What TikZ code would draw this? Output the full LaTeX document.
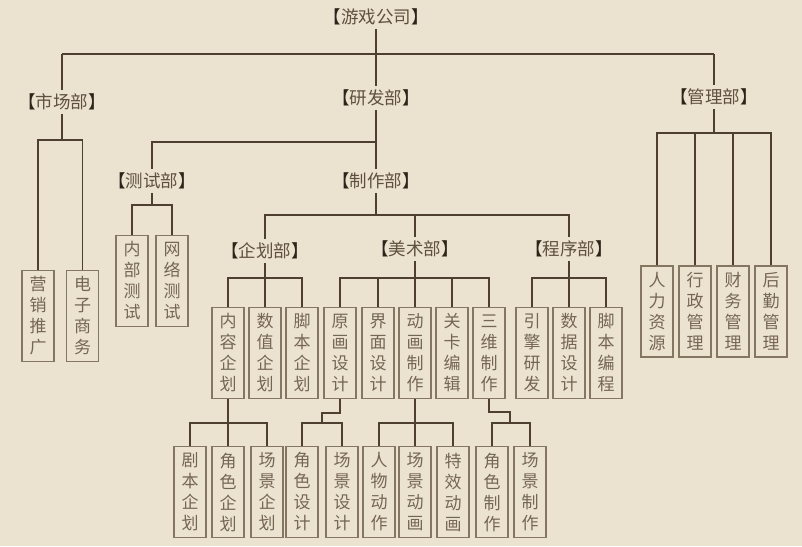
\documentclass[tikz,border=0pt]{standalone}
\usepackage{fontspec}
\newfontfamily\cjk{Noto Sans CJK SC}
\definecolor{bg}{HTML}{ECE2D0}
\definecolor{ln}{HTML}{4E3F30}
\definecolor{bx}{HTML}{857662}
\definecolor{tx}{HTML}{756654}
\definecolor{hd}{HTML}{5E4F3E}
\definecolor{brk}{HTML}{2E241A}
\newcommand{\hdr}[1]{{\color{brk}【}#1{\color{brk}】}}
\begin{document}
\begin{tikzpicture}[x=1pt,y=-1pt,
  vbox/.style={draw=bx,line width=1.1pt,minimum width=32pt,minimum height=91pt,inner sep=0pt,
    align=center,text=tx,font=\cjk\fontsize{17}{21}\selectfont},
  head/.style={inner xsep=0pt,inner ysep=4pt,text=hd,font=\cjk\fontsize{17.5}{19}\selectfont},
  conn/.style={draw=ln,line width=1.3pt}]
\useasboundingbox[fill=bg] (0,0) rectangle (802,546);
% headers
\node[head] (top) at (376,17) {\hdr{游戏公司}};
\node[head] (sc) at (62,102) {\hdr{市场部}};
\node[head] (yf) at (376,98) {\hdr{研发部}};
\node[head] (gl) at (714,97) {\hdr{管理部}};
\node[head] (cs) at (152,181) {\hdr{测试部}};
\node[head] (zz) at (376,181) {\hdr{制作部}};
\node[head] (qh) at (265,251) {\hdr{企划部}};
\node[head] (ms) at (415,249) {\hdr{美术部}};
\node[head] (cx) at (569,249) {\hdr{程序部}};
% level boxes
\node[vbox] (yx) at (38,316) {营\\销\\推\\广};
\node[vbox] (dz) at (82.5,316) {电\\子\\商\\务};
\node[vbox] (nb) at (132,281) {内\\部\\测\\试};
\node[vbox] (wl) at (172,281) {网\\络\\测\\试};
\node[vbox] (rl) at (657,311.5) {人\\力\\资\\源};
\node[vbox] (xz) at (695,311.5) {行\\政\\管\\理};
\node[vbox] (cw) at (733,311.5) {财\\务\\管\\理};
\node[vbox] (hq) at (771,311.5) {后\\勤\\管\\理};
% middle row
\node[vbox] (nr) at (228,353) {内\\容\\企\\划};
\node[vbox] (sz) at (265,353) {数\\值\\企\\划};
\node[vbox] (jb) at (302,353) {脚\\本\\企\\划};
\node[vbox] (yh) at (340,353) {原\\画\\设\\计};
\node[vbox] (jm) at (378,353) {界\\面\\设\\计};
\node[vbox] (dh) at (415,353) {动\\画\\制\\作};
\node[vbox] (gk) at (452,353) {关\\卡\\编\\辑};
\node[vbox] (sw) at (489,353) {三\\维\\制\\作};
\node[vbox] (yq) at (532,353) {引\\擎\\研\\发};
\node[vbox] (sj) at (569,353) {数\\据\\设\\计};
\node[vbox] (jbbc) at (606,353) {脚\\本\\编\\程};
% bottom row
\node[vbox] (jbqh) at (190,492) {剧\\本\\企\\划};
\node[vbox] (jsqh) at (228,492) {角\\色\\企\\划};
\node[vbox] (cjqh) at (267,492) {场\\景\\企\\划};
\node[vbox] (jssj) at (302,492) {角\\色\\设\\计};
\node[vbox] (cjsj) at (342,492) {场\\景\\设\\计};
\node[vbox] (rwdz) at (379,492) {人\\物\\动\\作};
\node[vbox] (cjdh) at (415,492) {场\\景\\动\\画};
\node[vbox] (txdh) at (453,492) {特\\效\\动\\画};
\node[vbox] (jszz) at (492,492) {角\\色\\制\\作};
\node[vbox] (cjzz) at (530,492) {场\\景\\制\\作};
% bus coordinates
\coordinate (b0) at (0,54);
\coordinate (b1) at (0,140);
\coordinate (b2) at (0,142);
\coordinate (b3) at (0,133);
\coordinate (b4) at (0,205);
\coordinate (b5) at (0,215);
\coordinate (b6) at (0,278);
\coordinate (b7) at (0,423);
\coordinate (j1) at (322,413);
\coordinate (j2) at (322,423);
\coordinate (j3) at (510,412);
\coordinate (j4) at (510,423);
% connectors
\draw[conn] (top.south) -- (yf.north);
\draw[conn] (sc.north |- b0) -- (gl.north |- b0);
\draw[conn] (sc.north |- b0) -- (sc.north);
\draw[conn] (gl.north |- b0) -- (gl.north);
% market
\draw[conn] (sc.south) -- (sc.south |- b1);
\draw[conn] (yx.north) |- (sc.south |- b1) -| (dz.north);
% R&D
\draw[conn] (yf.south) -- (zz.north);
\draw[conn] (cs.north) |- (yf.south |- b2);
% management
\draw[conn] (gl.south) -- (gl.south |- b3);
\draw[conn] (rl.north) |- (hq.north |- b3) -- (hq.north);
\draw[conn] (xz.north) -- (xz.north |- b3);
\draw[conn] (cw.north) -- (cw.north |- b3);
% test
\draw[conn] (cs.south) -- (cs.south |- b4);
\draw[conn] (nb.north) |- (wl.north |- b4) -- (wl.north);
% production
\draw[conn] (zz.south) -- (zz.south |- b5);
\draw[conn] (qh.north) |- (cx.north |- b5) -- (cx.north);
\draw[conn] (ms.north) -- (ms.north |- b5);
% planning
\draw[conn] (qh.south) -- (sz.north);
\draw[conn] (nr.north) |- (jb.north |- b6) -- (jb.north);
% art
\draw[conn] (ms.south) -- (dh.north);
\draw[conn] (yh.north) |- (sw.north |- b6) -- (sw.north);
\draw[conn] (jm.north) -- (jm.north |- b6);
\draw[conn] (gk.north) -- (gk.north |- b6);
% program
\draw[conn] (cx.south) -- (sj.north);
\draw[conn] (yq.north) |- (jbbc.north |- b6) -- (jbbc.north);
% bottom: planning
\draw[conn] (nr.south) -- (jsqh.north);
\draw[conn] (jbqh.north) |- (cjqh.north |- b7) -- (cjqh.north);
% bottom: original art
\draw[conn] (yh.south) |- (j1) -- (j2);
\draw[conn] (jssj.north) |- (cjsj.north |- b7) -- (cjsj.north);
% bottom: animation
\draw[conn] (dh.south) -- (cjdh.north);
\draw[conn] (rwdz.north) |- (txdh.north |- b7) -- (txdh.north);
% bottom: 3D
\draw[conn] (sw.south) |- (j3) -- (j4);
\draw[conn] (jszz.north) |- (cjzz.north |- b7) -- (cjzz.north);
\end{tikzpicture}
\end{document}
